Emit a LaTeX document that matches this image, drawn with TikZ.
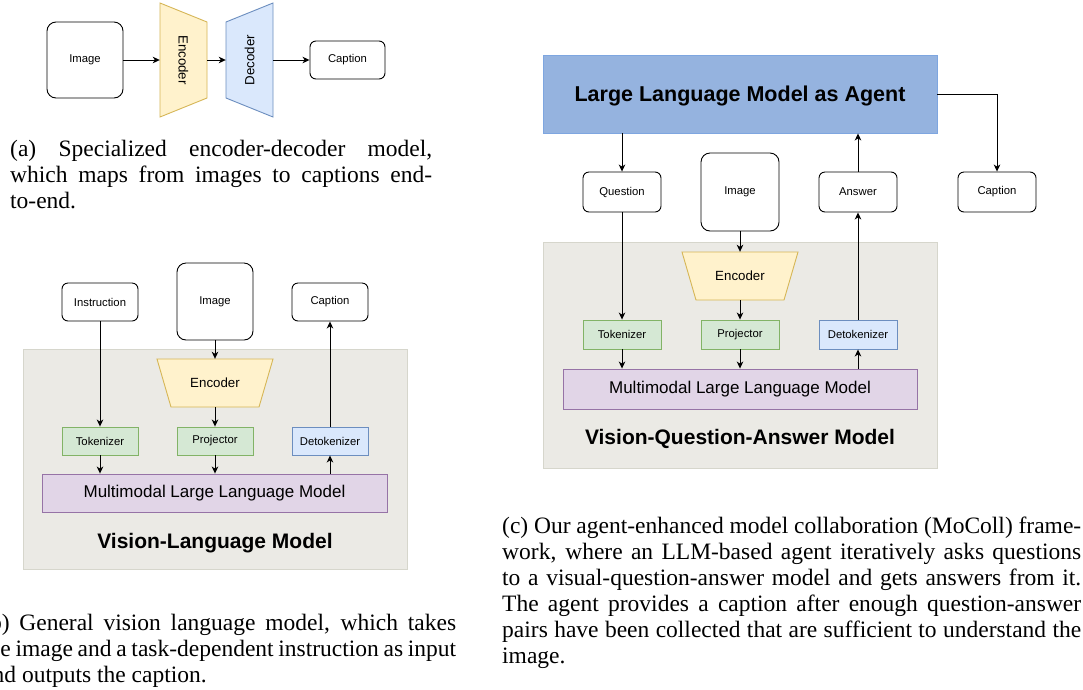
\documentclass[tikz,border=0pt]{standalone}
\usepackage{fontspec}
\usepackage{graphicx}
\setmainfont{Liberation Serif}
\newfontfamily\dsans{Liberation Sans}
\usetikzlibrary{arrows.meta}
\definecolor{yfill}{HTML}{FFF2CC}
\definecolor{ydraw}{HTML}{D6B656}
\definecolor{bfill}{HTML}{DAE8FC}
\definecolor{bdraw}{HTML}{6C8EBF}
\definecolor{gfill}{HTML}{D5E8D4}
\definecolor{gdraw}{HTML}{82B366}
\definecolor{pfill}{HTML}{E1D5E7}
\definecolor{pdraw}{HTML}{9673A6}
\definecolor{agfill}{HTML}{95B3DF}
\definecolor{agdraw}{HTML}{7EA6E0}
\definecolor{grfill}{HTML}{EBEAE5}
\definecolor{grdraw}{HTML}{D6D6CC}
\begin{document}
\begin{tikzpicture}[x=1pt,y=-1pt,
  lbl/.style={font=\dsans\fontsize{11.3}{13}\selectfont},
  rbox/.style={lbl, draw=black, line width=0.9pt, rounded corners=6pt, fill=white, inner sep=0pt, minimum width=76pt, minimum height=38pt},
  imgbox/.style={rbox, rounded corners=9pt, minimum height=77pt},
  gbox/.style={lbl, draw=gdraw, fill=gfill, line width=0.9pt, inner sep=0pt, minimum width=76pt, minimum height=28pt},
  bbox/.style={lbl, draw=bdraw, fill=bfill, line width=0.9pt, inner sep=0pt, minimum width=76pt, minimum height=28pt},
  mbox/.style={font=\dsans\fontsize{17}{20}\selectfont, draw=pdraw, fill=pfill, line width=0.9pt, inner sep=0pt},
  encshape/.style={draw=ydraw, fill=yfill, line width=0.9pt},
  decshape/.style={draw=bdraw, fill=bfill, line width=0.9pt},
  anch/.style={inner sep=0pt},
  enctxt/.style={font=\dsans\fontsize{13.3}{15}\selectfont},
  container/.style={draw=grdraw, fill=grfill, line width=0.9pt},
  title/.style={font=\dsans\bfseries\fontsize{21}{24}\selectfont, anchor=base, inner sep=0pt},
  arr/.style={-{Stealth[length=7pt,width=6.5pt,inset=2pt]}, line width=1pt, black},
  captxt/.style={inner sep=0pt, anchor=base west, font=\fontsize{23.5}{26}\selectfont}
]
\useasboundingbox[fill=white] (0,0) rectangle (1083,689);

% ---------------- (a) ----------------
\node[imgbox, minimum height=76pt] (imgA) at (85,60) {Image};
\draw[encshape] (160,3) -- (207,22) -- (207,98) -- (160,117) -- cycle;
\node[anch, minimum width=47pt, minimum height=114pt, enctxt] (encA) at (183.5,60) {\rotatebox{-90}{Encoder}};
\draw[decshape] (226,22) -- (273,3) -- (273,117) -- (226,98) -- cycle;
\node[anch, minimum width=47pt, minimum height=114pt, enctxt] (decA) at (249.5,60) {\rotatebox{90}{Decoder}};
\node[rbox, minimum width=75pt] (capA) at (347.5,60) {Caption};
\draw[arr] (imgA.east) -- (encA.west);
\draw[arr] (encA.east) -- (decA.west);
\draw[arr] (decA.east) -- (capA.west);

\node[captxt] (ca1) at (10,156) {\makebox[422pt][s]{(a) Specialized encoder-decoder model,}};
\node[captxt] (ca2) at (10,182) {\makebox[422pt][s]{which maps from images to captions end-}};
\node[captxt] (ca3) at (10,208) {to-end.};

% ---------------- (b) ----------------
\draw[container] (23,349) rectangle (407,569);
\node[rbox] (insB) at (100,302) {Instruction};
\node[imgbox] (imgB) at (215,301.5) {Image};
\node[rbox] (capB) at (330,302) {Caption};
\draw[encshape] (157,359) -- (273,359) -- (259,407) -- (171,407) -- cycle;
\node[anch, minimum width=116pt, minimum height=48pt, enctxt] (encB) at (215,383) {Encoder};
\node[gbox] (tokB) at (100,441) {Tokenizer};
\node[gbox] (projB) at (215,441) {Projector};
\node[bbox] (detokB) at (330,441) {Detokenizer};
\node[mbox, minimum width=345pt, minimum height=38pt] (mllmB) at (214.5,493) {Multimodal Large Language Model};
\node[title] (titleB) at (215,548) {Vision-Language Model};
\draw[arr] (insB.south) -- (tokB.north);
\draw[arr] (imgB.south) -- (encB.north);
\draw[arr] (encB.south) -- (projB.north);
\draw[arr] (tokB.south) -- (tokB.south |- mllmB.north);
\draw[arr] (projB.south) -- (projB.south |- mllmB.north);
\draw[arr] (mllmB.north -| detokB.south) -- (detokB.south);
\draw[arr] (detokB.north) -- (capB.south);

\node[captxt] (cb1) at (-18,630) {\makebox[474pt][s]{(b) General vision language model, which takes}};
\node[captxt] (cb2) at (-18,656) {\makebox[474pt][s]{the image and a task-dependent instruction as input}};
\node[captxt] (cb3) at (-18,682) {and outputs the caption.};

% ---------------- (c) ----------------
\node[draw=agdraw, fill=agfill, line width=0.9pt, minimum width=394pt, minimum height=78pt, inner sep=0pt] (agent) at (740,94) {};
\node[title, font=\dsans\bfseries\fontsize{21.5}{24}\selectfont] (agentT) at (740,101) {Large Language Model as Agent};
\draw[container] (543,242) rectangle (937,468);
\node[rbox, minimum width=78pt, minimum height=40pt] (qC) at (622,192) {Question};
\node[imgbox, minimum width=78pt, minimum height=78pt] (imgC) at (740,192) {Image};
\node[rbox, minimum width=78pt, minimum height=40pt] (ansC) at (858,192) {Answer};
\node[rbox, minimum width=78pt, minimum height=40pt] (capC) at (997,192) {Caption};
\draw[encshape] (682,252) -- (798,252) -- (784,300) -- (696,300) -- cycle;
\node[anch, minimum width=116pt, minimum height=48pt, enctxt] (encC) at (740,276) {Encoder};
\node[gbox, minimum width=78pt, minimum height=29pt] (tokC) at (622,334.5) {Tokenizer};
\node[gbox, minimum width=78pt, minimum height=29pt] (projC) at (740,334.5) {Projector};
\node[bbox, minimum width=78pt, minimum height=29pt] (detokC) at (858,334.5) {Detokenizer};
\node[mbox, minimum width=354pt, minimum height=40pt] (mllmC) at (740,389) {Multimodal Large Language Model};
\node[title] (titleC) at (740,444) {Vision-Question-Answer Model};
\draw[arr] (agent.south -| qC.north) -- (qC.north);
\draw[arr] (ansC.north) -- (ansC.north |- agent.south);
\draw[arr] (agent.east) -| (capC.north);
\draw[arr] (qC.south) -- (tokC.north);
\draw[arr] (imgC.south) -- (encC.north);
\draw[arr] (encC.south) -- (projC.north);
\draw[arr] (tokC.south) -- (tokC.south |- mllmC.north);
\draw[arr] (projC.south) -- (projC.south |- mllmC.north);
\draw[arr] (mllmC.north -| detokC.south) -- (detokC.south);
\draw[arr] (detokC.north) -- (ansC.south);

\node[captxt] (cc1) at (502,533) {\makebox[579pt][s]{(c) Our agent-enhanced model collaboration (MoColl) frame-}};
\node[captxt] (cc2) at (502,559) {\makebox[579pt][s]{work, where an LLM-based agent iteratively asks questions}};
\node[captxt] (cc3) at (502,585) {\makebox[579pt][s]{to a visual-question-answer model and gets answers from it.}};
\node[captxt] (cc4) at (502,611) {\makebox[579pt][s]{The agent provides a caption after enough question-answer}};
\node[captxt] (cc5) at (502,637) {\makebox[579pt][s]{pairs have been collected that are sufficient to understand the}};
\node[captxt] (cc6) at (502,663) {image.};
\end{tikzpicture}
\end{document}
